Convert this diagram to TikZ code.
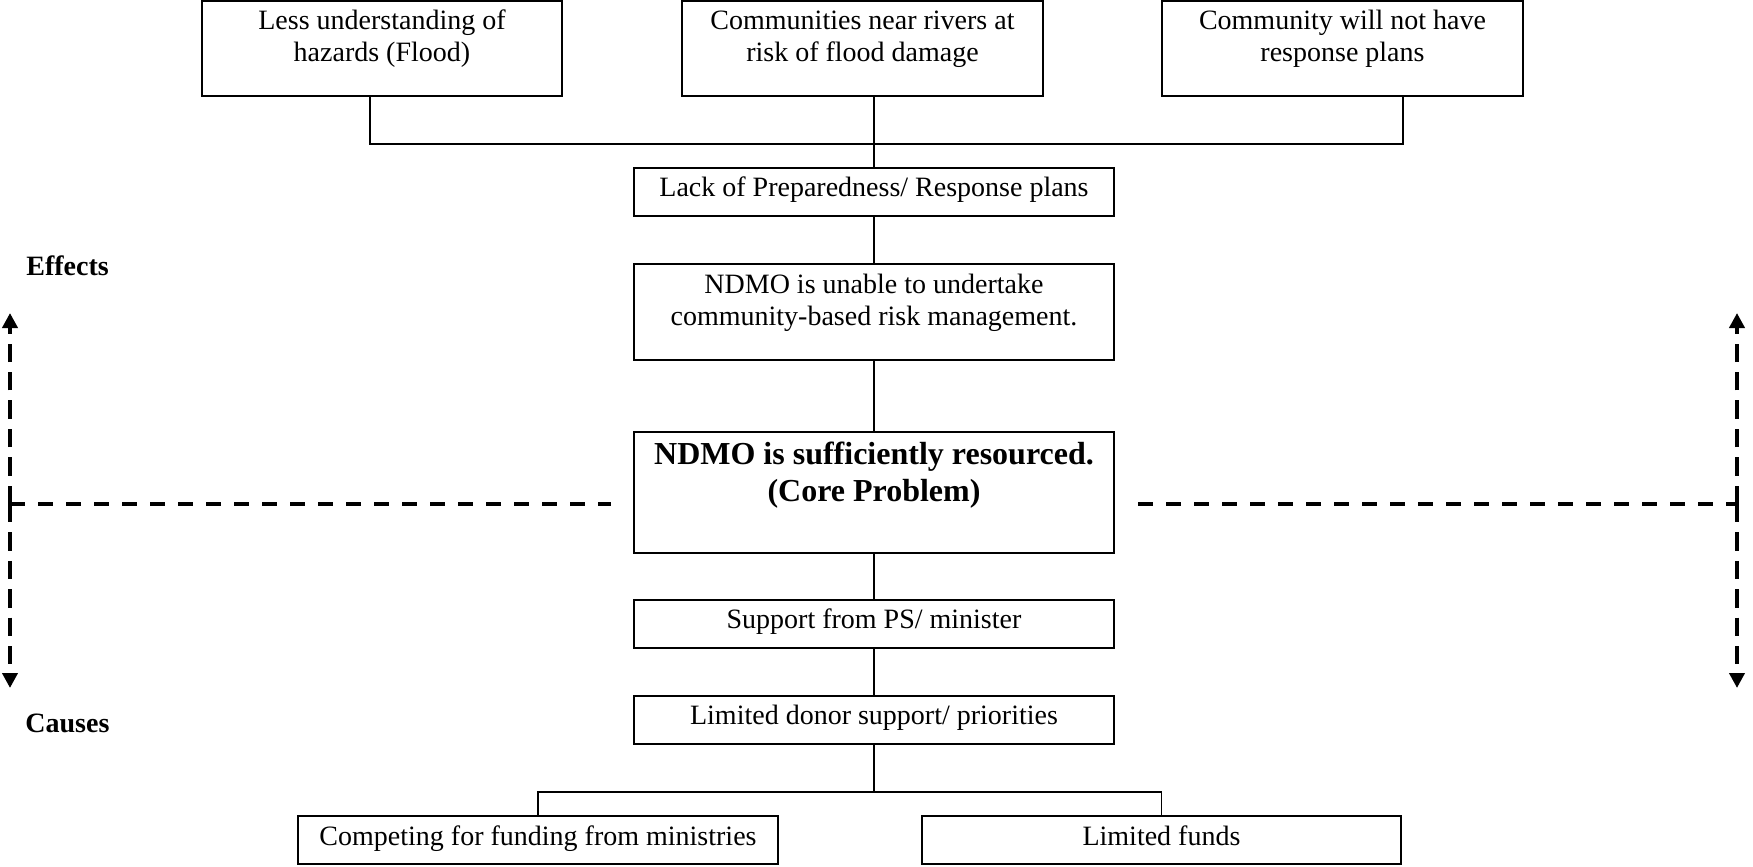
\documentclass[tikz,border=0pt]{standalone}
\usepackage{fontspec}
\setmainfont{Liberation Serif}
\usetikzlibrary{arrows.meta}
\begin{document}
\begin{tikzpicture}[x=0.5pt,y=-0.5pt,
  box/.style={draw, line width=0.85pt, inner sep=0pt},
  wire/.style={line width=0.8pt},
  lbl/.style={inner sep=0pt, anchor=base, font=\fontsize{14}{16}\selectfont},
  lblm/.style={inner sep=0pt, align=center, anchor=north, font=\fontsize{14}{16}\selectfont},
  corelbl/.style={inner sep=0pt, align=center, anchor=north, font=\fontsize{16}{18.5}\selectfont\bfseries},
  side/.style={inner sep=0pt, anchor=base west, font=\fontsize{14}{16}\selectfont\bfseries},
  hdash/.style={line width=2pt, dash pattern=on 7.6pt off 6.4pt},
  vdash/.style={line width=2pt, dash pattern=on 9.2pt off 5pt, -{Triangle[width=7.5pt,length=7.5pt]}},
]
\useasboundingbox (0,0) rectangle (1753,867);

% effects row
\node[box, minimum width=180pt, minimum height=47.5pt] (b1) at (382,48.5) {};
\node[box, minimum width=180.5pt, minimum height=47.5pt] (b2) at (862.5,48.5) {};
\node[box, minimum width=180.5pt, minimum height=47.5pt] (b3) at (1342.5,48.5) {};
\node[lblm] (t1) at (382,6.9) {\strut Less understanding of\\hazards (Flood)};
\node[lblm] (t2) at (862.5,6.9) {\strut Communities near rivers at\\risk of flood damage};
\node[lblm] (t3) at (1342.5,6.9) {\strut Community will not have\\response plans};

% central chain
\node[box, minimum width=240.25pt, minimum height=24pt] (lack) at (874,192.2) {};
\node[lbl] (lackt) at (874,196.7) {Lack of Preparedness/ Response plans};

\node[box, minimum width=240.25pt, minimum height=48pt] (unable) at (874,312) {};
\node[lblm] (unablet) at (874,270.9) {\strut NDMO is unable to undertake\\community-based risk management.};

\node[box, minimum width=240.25pt, minimum height=60.25pt] (core) at (874,492.5) {};
\node[corelbl] (coret) at (874,438.1) {\strut NDMO is sufficiently resourced.\\(Core Problem)};

\node[box, minimum width=240.25pt, minimum height=24pt] (supp) at (874,624.2) {};
\node[lbl] (suppt) at (874,628) {Support from PS/ minister};

\node[box, minimum width=240.25pt, minimum height=24pt] (donor) at (874,720.2) {};
\node[lbl] (donort) at (874,724) {Limited donor support/ priorities};

% causes row
\node[box, minimum width=240pt, minimum height=24pt] (comp) at (538,840.2) {};
\node[lbl] (compt) at (538,845) {Competing for funding from ministries};
\node[box, minimum width=239.5pt, minimum height=24pt] (funds) at (1161.5,840.2) {};
\node[lbl] (fundst) at (1161.5,845) {Limited funds};

% side labels
\node[side] (eff) at (26,275) {Effects};
\node[side] (cau) at (25,732) {Causes};

% connectors
\coordinate (k1) at (370,144);
\coordinate (k3) at (1403,144);
\coordinate (j) at (874,792);
\draw[wire] (b1.south -| k1) -- (k1) -- (k3) -- (b3.south -| k3);
\draw[wire] (b2.south -| lack.north) -- (lack.north);
\draw[wire] (lack.south) -- (unable.north);
\draw[wire] (unable.south) -- (core.north);
\draw[wire] (core.south) -- (supp.north);
\draw[wire] (supp.south) -- (donor.north);
\draw[wire] (donor.south) -- (j);
\draw[wire] (comp.north) |- (j) -| (funds.north);

% effects / causes divider
\coordinate (lm) at (10,504);
\coordinate (lu) at (10,313);
\coordinate (ld) at (10,688);
\coordinate (le) at (611,504);
\coordinate (rm) at (1737,504);
\coordinate (ru) at (1737,313);
\coordinate (rd) at (1737,688);
\coordinate (rs) at (1138,504);
\draw[hdash] (lm) -- (le);
\draw[hdash] (rs) -- (rm);
\draw[vdash] (lm) -- (lu);
\draw[vdash] (lm) -- (ld);
\draw[vdash] (rm) -- (ru);
\draw[vdash] (rm) -- (rd);
\end{tikzpicture}
\end{document}
